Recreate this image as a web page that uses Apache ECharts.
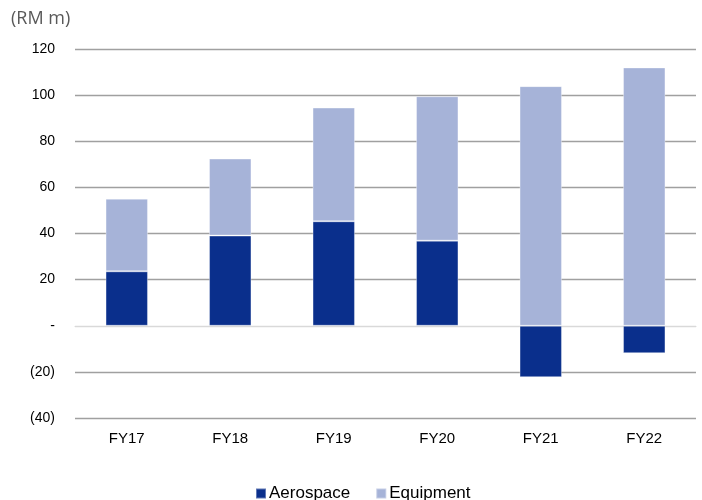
<!DOCTYPE html>
<html>
<head>
<meta charset="utf-8">
<script src="https://cdn.jsdelivr.net/npm/echarts@6/dist/echarts.min.js"></script>
<style>
  html, body { margin: 0; padding: 0; background: #fff; }
  #chart { width: 702px; height: 500px; }
</style>
</head>
<body>
<div id="chart"></div>
<script>
// Revenue by segment, RM million
const categories = ['FY17', 'FY18', 'FY19', 'FY20', 'FY21', 'FY22'];
const aerospace = [23.6, 39.1, 45.3, 36.9, -22.3, -11.9];
const equipment = [31.5, 33.4, 49.3, 62.6, 103.9, 112.0];
const yTicks = { min: -40, max: 120, step: 20 };

const chart = echarts.init(document.getElementById('chart'), null, { renderer: 'canvas' });

// Gridline colours: the zero line is lighter than the rest
const gridColors = [];
for (let v = yTicks.min; v <= yTicks.max; v += yTicks.step) {
  gridColors.push(v === 0 ? '#d9d9d9' : '#a0a0a0');
}

const fmt = v => v === 0 ? '-' : (v < 0 ? '(' + Math.abs(v) + ')' : String(v));

chart.setOption({
  animation: false,
  textStyle: { fontFamily: 'Liberation Sans, Arial, sans-serif' },
  graphic: [{
    type: 'text', left: 11, top: 10,
    style: { text: '(RM m)', fill: '#595959', font: '18px "Open Sans", sans-serif' }
  }],
  grid: { left: 75, right: 6, top: 49, bottom: 82, containLabel: false },
  legend: {
    bottom: -7, left: 250,
    itemWidth: 10, itemHeight: 10, itemGap: 25, icon: 'rect',
    textStyle: { fontSize: 17, color: '#000', padding: [0, 0, 0, -2] },
    data: ['Aerospace', 'Equipment']
  },
  xAxis: {
    type: 'category', data: categories,
    axisLine: { show: true, onZero: true, lineStyle: { color: '#d9d9d9' } },
    axisTick: { show: false },
    axisLabel: { color: '#000', fontSize: 15, margin: 13 },
    position: 'bottom'
  },
  yAxis: {
    type: 'value', min: yTicks.min, max: yTicks.max, interval: yTicks.step,
    axisLine: { show: false }, axisTick: { show: false },
    axisLabel: { color: '#000', fontSize: 14, margin: 20, formatter: fmt },
    splitLine: { show: true, lineStyle: { color: gridColors, width: 1.3 } }
  },
  series: [
    {
      name: 'Aerospace', type: 'bar', stack: 'total', data: aerospace,
      barWidth: '41%',
      itemStyle: { color: '#0a2f8c', borderColor: 'rgba(255,255,255,0.35)', borderWidth: 1 }
    },
    {
      name: 'Equipment', type: 'bar', stack: 'total', data: equipment,
      barWidth: '41%',
      itemStyle: { color: '#a6b3d8', borderColor: 'rgba(255,255,255,0.35)', borderWidth: 1 }
    }
  ]
});
</script>
</body>
</html>
